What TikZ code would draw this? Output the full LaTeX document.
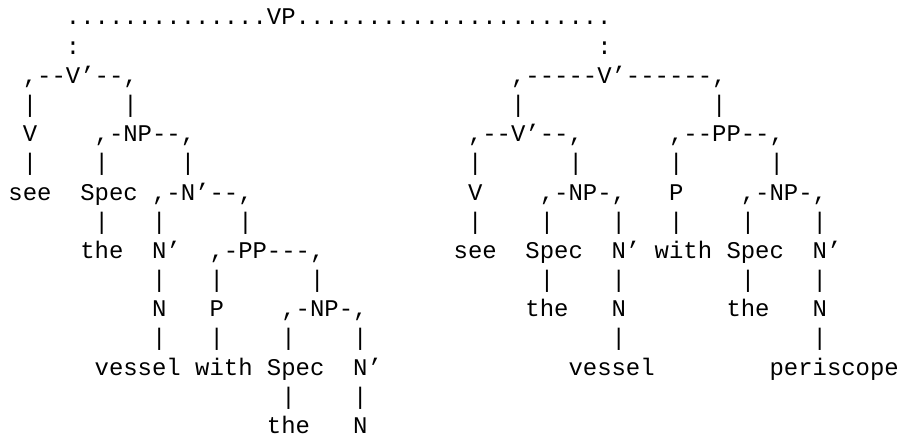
\documentclass[tikz,border=0pt]{standalone}
\usepackage{fontspec}
\setmonofont{Liberation Mono}

\begin{document}
\begin{tikzpicture}[x=14.36pt,y=-29.17pt,
  chars/.style={anchor=base west,inner sep=0pt,outer sep=0pt,font=\ttfamily\fontsize{23.93}{29.17}\selectfont}]
\useasboundingbox (-8.5pt,-4.17pt) rectangle (889.5pt,-439.17pt);

% top of the tree
\node[chars] (dotsL) at (4,1) {..............};
\node[chars] (vp) at (18,1) {VP};
\node[chars] (dotsR) at (20,1) {......................};
\node[chars] (colL) at (4,2) {:};
\node[chars] (colR) at (41,2) {:};

% left reading
\node[chars] (c3a) at (1,3) {,--};
\node[chars] (vbarL) at (4,3) {V’};
\node[chars] (c3b) at (6,3) {--,};
\node[chars] (vL) at (1,5) {V};
\node[chars] (c5a) at (6,5) {,-};
\node[chars] (npL) at (8,5) {NP};
\node[chars] (c5b) at (10,5) {--,};
\node[chars] (seeL) at (0,7) {see};
\node[chars] (specL) at (5,7) {Spec};
\node[chars] (c7a) at (10,7) {,-};
\node[chars] (nbarL) at (12,7) {N’};
\node[chars] (c7b) at (14,7) {--,};
\node[chars] (theL) at (5,9) {the};
\node[chars] (nbarL2) at (10,9) {N’};
\node[chars] (c9a) at (14,9) {,-};
\node[chars] (ppL) at (16,9) {PP};
\node[chars] (c9b) at (18,9) {---,};
\node[chars] (nL) at (10,11) {N};
\node[chars] (pL) at (14,11) {P};
\node[chars] (c11a) at (19,11) {,-};
\node[chars] (npL2) at (21,11) {NP};
\node[chars] (c11b) at (23,11) {-,};
\node[chars] (vesselL) at (6,13) {vessel};
\node[chars] (withL) at (13,13) {with};
\node[chars] (specL2) at (18,13) {Spec};
\node[chars] (nbarL3) at (24,13) {N’};
\node[chars] (theL2) at (18,15) {the};
\node[chars] (nL2) at (24,15) {N};

% right reading
\node[chars] (c3c) at (35,3) {,-----};
\node[chars] (vbarR) at (41,3) {V’};
\node[chars] (c3d) at (43,3) {------,};
\node[chars] (c5c) at (32,5) {,--};
\node[chars] (vbarR2) at (35,5) {V’};
\node[chars] (c5d) at (37,5) {--,};
\node[chars] (c5e) at (46,5) {,--};
\node[chars] (ppR) at (49,5) {PP};
\node[chars] (c5f) at (51,5) {--,};
\node[chars] (vR) at (32,7) {V};
\node[chars] (c7c) at (37,7) {,-};
\node[chars] (npR) at (39,7) {NP};
\node[chars] (c7d) at (41,7) {-,};
\node[chars] (pR) at (46,7) {P};
\node[chars] (c7e) at (51,7) {,-};
\node[chars] (npR2) at (53,7) {NP};
\node[chars] (c7f) at (55,7) {-,};
\node[chars] (seeR) at (31,9) {see};
\node[chars] (specR) at (36,9) {Spec};
\node[chars] (nbarR) at (42,9) {N’};
\node[chars] (withR) at (45,9) {with};
\node[chars] (specR2) at (50,9) {Spec};
\node[chars] (nbarR2) at (56,9) {N’};
\node[chars] (theR) at (36,11) {the};
\node[chars] (nR) at (42,11) {N};
\node[chars] (theR2) at (50,11) {the};
\node[chars] (nR2) at (56,11) {N};
\node[chars] (vesselR) at (39,13) {vessel};
\node[chars] (periscopeR) at (53,13) {periscope};

% the bars between the rows
\foreach \r/\cols in {4/{1,8,35,49},
                      6/{1,6,12,32,39,46,53},
                      8/{6,10,16,32,37,42,46,51,56},
                      10/{10,14,21,37,42,51,56},
                      12/{10,14,19,24,42,56},
                      14/{19,24}}
  \foreach \c in \cols
    \node[chars] (bar-\r-\c) at (\c,\r) {|};

\end{tikzpicture}
\end{document}
